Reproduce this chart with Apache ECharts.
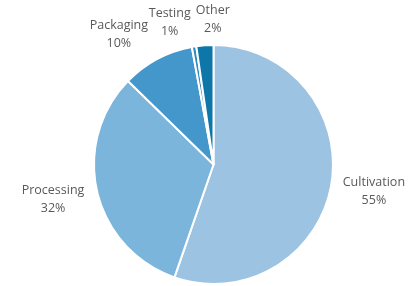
<!DOCTYPE html>
<html>
<head>
<meta charset="utf-8">
<script src="https://cdn.jsdelivr.net/npm/echarts@6/dist/echarts.min.js"></script>
<style>
    html, body { margin: 0; padding: 0; background: #fff; }
    #chart { width: 415px; height: 286px; }
</style>
</head>
<body>
<div id="chart"></div>
<script>
// 数据
var categories = ["Cultivation", "Processing", "Packaging", "Testing", "Other"];
var shares = [55.3, 32.0, 9.8, 0.6, 2.3];
var colors = ["#9dc3e3", "#7bb5db", "#4397cb", "#2f8cc4", "#0e77aa"];
// 标签微调 (px)
var labelShift = [[0, 2], [-2, 0], [-19, 2], [-19, 5], [10, 4]];

var cx = 213.5, cy = 164.5, r = 119.5;
var labelFont = "12.5px 'Open Sans'";

// 每块的中间角度(从正上方顺时针)
var total = shares.reduce(function (a, b) { return a + b; }, 0);
var midAngles = [];
var acc = 0;
for (var i = 0; i < shares.length; i++) {
    midAngles.push((acc + shares[i] / 2) / total * Math.PI * 2);
    acc += shares[i];
}

// 文字宽度
var ctx = document.createElement("canvas").getContext("2d");
ctx.font = labelFont;
function textWidth(s) { return ctx.measureText(s).width; }

var pieData = [];
for (var i = 0; i < categories.length; i++) {
    pieData.push({ name: categories[i], value: shares[i], itemStyle: { color: colors[i] } });
}

var myChart = echarts.init(document.getElementById("chart"));
myChart.setOption({
    animation: false,
    series: [{
        type: "pie",
        center: [cx, cy],
        radius: r,
        startAngle: 90,
        clockwise: true,
        percentPrecision: 0,
        data: pieData,
        itemStyle: { borderColor: "#fff", borderWidth: 2 },
        label: {
            position: "outside",
            formatter: "{b}\n{d}%",
            color: "#595959",
            fontFamily: "Open Sans",
            fontSize: 12.5,
            lineHeight: 18,
            align: "center",
            overflow: "none",
            width: 120
        },
        labelLine: { show: false },
        labelLayout: function (params) {
            var i = params.dataIndex;
            var a = midAngles[i];
            var dx = Math.sin(a), dy = -Math.cos(a);
            var w = textWidth(categories[i]), h = 36;
            var gap = 12;
            return {
                x: cx + dx * (r + gap) + dx * w / 2 + labelShift[i][0],
                y: cy + dy * (r + gap) + dy * h / 2 + labelShift[i][1],
                align: "center",
                verticalAlign: "middle"
            };
        },
        emphasis: { disabled: true }
    }]
});
</script>
</body>
</html>
